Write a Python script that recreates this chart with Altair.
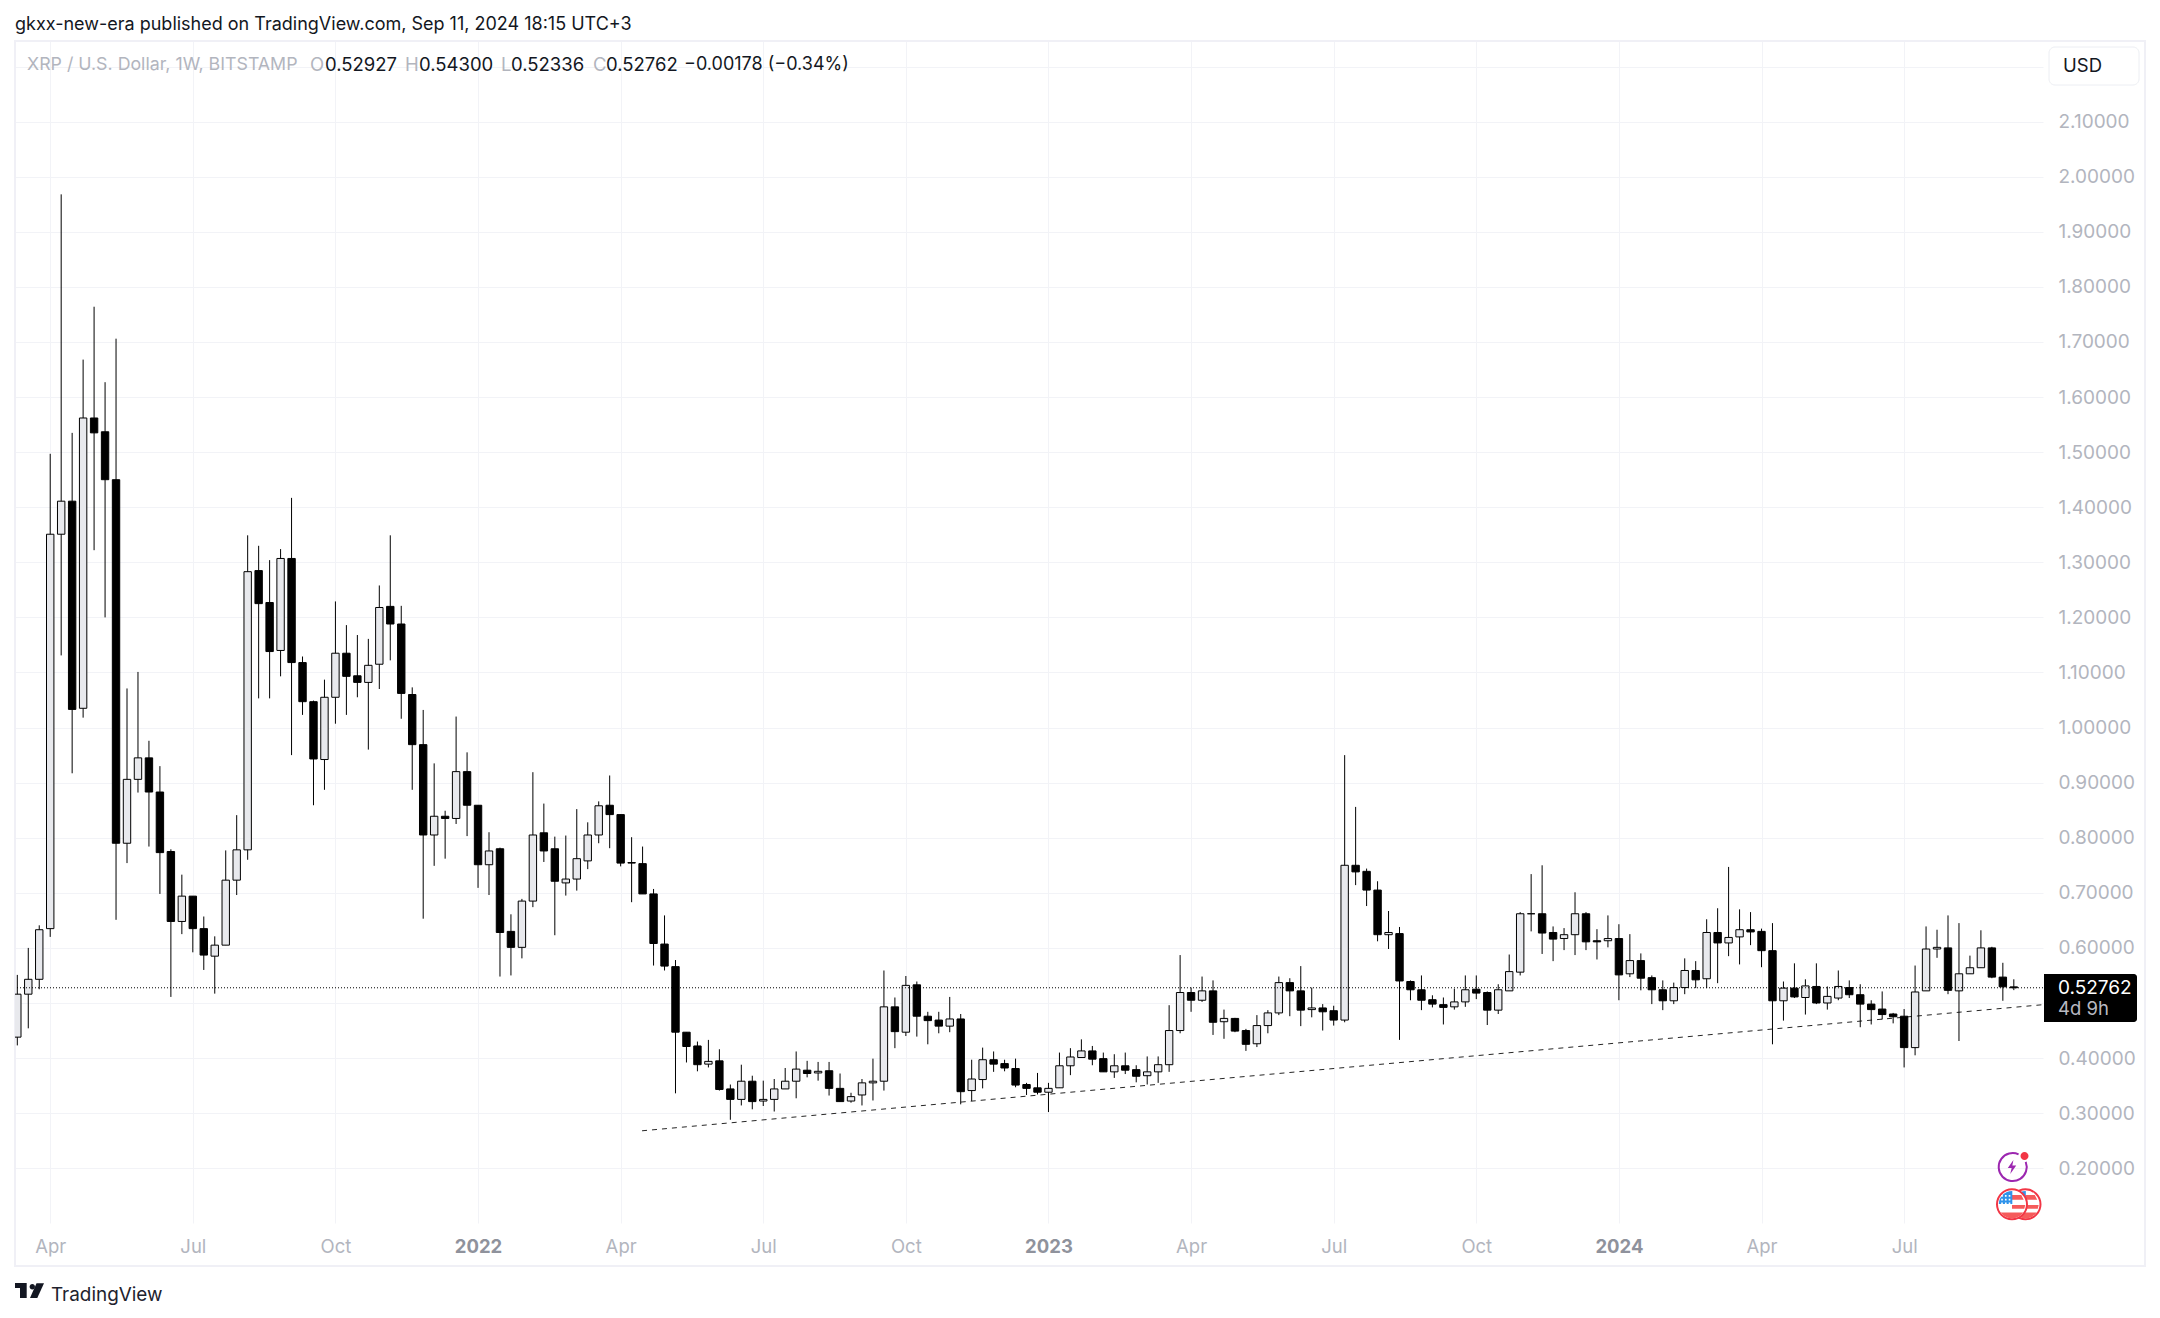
import altair as alt
import pandas as pd

opens = [.438,.516,.543,.635,1.351,1.411,1.035,1.562,1.537,1.45,
 .79,.906,.945,.883,.775,.648,.694,.635,.585,.605,
 .723,.778,1.285,1.227,1.14,1.307,1.118,1.047,.942,1.055,
 1.135,1.094,1.082,1.115,1.22,1.188,1.06,.969,.805,.839,
 .835,.92,.859,.751,.78,.63,.601,.685,.809,.78,
 .718,.725,.758,.805,.859,.842,.755,.753,.698,.607,
 .566,.447,.422,.389,.395,.344,.325,.358,.322,.325,
 .344,.358,.378,.373,.377,.345,.322,.333,.355,.358,
 .493,.447,.533,.476,.469,.458,.471,.341,.361,.397,
 .39,.381,.352,.346,.338,.346,.386,.401,.413,.399,
 .375,.386,.379,.368,.375,.388,.45,.519,.505,.522,
 .466,.472,.45,.426,.459,.482,.537,.522,.488,.491,
 .486,.469,.75,.739,.705,.624,.626,.539,.524,.506,
 .497,.493,.502,.525,.519,.487,.522,.556,.662,.662,
 .628,.617,.624,.662,.613,.613,.617,.553,.577,.546,
 .524,.504,.528,.559,.544,.628,.609,.62,.633,.63,
 .595,.504,.527,.51,.53,.5,.509,.528,.515,.498,
 .489,.48,.476,.419,.522,.598,.6,.522,.553,.564,
 .6,.547,.52927]
closes = [.516,.543,.633,1.351,1.411,1.033,1.562,1.535,1.45,.79,
 .906,.945,.883,.773,.648,.694,.635,.587,.605,.723,
 .778,1.283,1.225,1.138,1.307,1.118,1.047,.943,1.055,1.135,
 1.093,1.082,1.113,1.218,1.188,1.062,.969,.805,.839,.835,
 .92,.859,.751,.776,.628,.601,.685,.805,.776,.721,
 .725,.762,.805,.858,.842,.754,.754,.698,.608,.567,
 .447,.421,.388,.394,.343,.325,.358,.321,.325,.344,
 .358,.38,.372,.376,.345,.321,.33,.355,.358,.493,
 .448,.532,.476,.468,.458,.471,.339,.362,.397,.389,
 .382,.351,.345,.338,.345,.386,.402,.413,.398,.375,
 .386,.378,.367,.375,.388,.45,.519,.505,.522,.465,
 .472,.449,.425,.459,.482,.537,.522,.487,.491,.484,
 .469,.75,.738,.705,.624,.628,.54,.524,.505,.498,
 .492,.502,.524,.518,.487,.524,.557,.662,.662,.627,
 .616,.624,.662,.611,.611,.617,.551,.577,.545,.524,
 .504,.528,.559,.542,.628,.609,.619,.633,.629,.595,
 .504,.527,.511,.531,.5,.512,.53,.515,.498,.488,
 .479,.475,.419,.52,.598,.601,.523,.553,.564,.6,
 .547,.5294,.52762]
highs = [.551,.6,.641,1.497,1.968,1.535,1.668,1.764,1.627,1.706,
 1.071,1.101,.976,.93,.779,.733,.694,.657,.621,.777,
 .841,1.349,1.33,1.304,1.324,1.417,1.129,1.049,1.087,1.229,
 1.186,1.168,1.161,1.258,1.349,1.221,1.073,1.032,.935,.849,
 1.02,.955,.859,.81,.782,.661,.689,.919,.862,.802,
 .804,.852,.828,.866,.913,.842,.801,.784,.707,.659,
 .578,.447,.43,.433,.416,.352,.388,.368,.359,.362,
 .382,.412,.395,.393,.393,.372,.337,.362,.399,.559,
 .51,.549,.539,.484,.484,.511,.48,.397,.419,.412,
 .397,.399,.355,.373,.355,.41,.418,.434,.422,.41,
 .407,.41,.387,.403,.403,.496,.587,.528,.548,.541,
 .488,.473,.453,.478,.487,.548,.545,.567,.528,.498,
 .495,.95,.856,.744,.721,.667,.638,.541,.55,.514,
 .51,.526,.55,.55,.521,.534,.588,.665,.734,.75,
 .639,.636,.701,.665,.634,.659,.643,.625,.59,.55,
 .541,.537,.581,.576,.652,.672,.747,.67,.665,.635,
 .645,.539,.572,.543,.572,.53,.559,.541,.534,.505,
 .521,.482,.489,.568,.639,.633,.659,.645,.586,.632,
 .602,.573,.543]
lows = [.423,.454,.525,.62,1.131,.917,1.018,1.322,1.2,.651,
 .754,.882,.784,.698,.511,.625,.592,.56,.517,.605,
 .696,.76,1.053,1.053,1.093,.95,1.023,.859,.887,1.007,
 1.023,1.055,.96,1.07,1.122,1.016,.887,.653,.749,.762,
 .825,.803,.709,.696,.548,.55,.581,.674,.756,.623,
 .695,.704,.743,.79,.781,.748,.683,.698,.568,.559,
 .336,.392,.376,.383,.341,.288,.314,.307,.313,.303,
 .344,.327,.365,.359,.332,.321,.319,.314,.323,.341,
 .418,.44,.439,.425,.445,.447,.316,.322,.345,.375,
 .376,.347,.333,.334,.302,.346,.369,.401,.387,.375,
 .364,.371,.356,.352,.355,.375,.445,.484,.502,.442,
 .435,.447,.413,.42,.445,.478,.476,.458,.474,.45,
 .459,.465,.714,.676,.612,.598,.433,.505,.487,.492,
 .461,.488,.493,.507,.46,.48,.522,.55,.63,.589,
 .576,.596,.587,.596,.579,.601,.505,.547,.523,.498,
 .487,.498,.516,.527,.527,.536,.585,.57,.605,.565,
 .425,.468,.509,.479,.498,.488,.505,.509,.456,.461,
 .47,.463,.383,.405,.522,.582,.516,.431,.553,.564,
 .545,.504,.52336]

tick_weeks = [3,16,29,42,55,68,81,94,107,120,133,146,159,172]
tick_labels = ["Apr","Jul","Oct","2022","Apr","Jul","Oct","2023","Apr","Jul","Oct","2024","Apr","Jul"]
price_ticks = [round(0.2 + 0.1*k, 1) for k in range(21)]
last_price = 0.52762
trend_weeks = [56.95, 184.7]
trend_prices = [0.268, 0.497]

assert len(opens)==len(closes)==len(highs)==len(lows)==183

FONT = "Inter"
GRAY = "#b2b5be"
GRID = "#f2f3f7"
FRAME = "#f0f0f6"
INK = "#131722"
UP = "#e8e9ed"

df = pd.DataFrame({"week": range(183), "o": opens, "h": highs, "l": lows, "c": closes})
df["fill"] = [UP if c >= o else "#000000" for o, c in zip(opens, closes)]

labels_js = "[" + ",".join(f"'{t}'" for t in tick_labels) + "]"
weeks_js = "[" + ",".join(str(t) for t in tick_weeks) + "]"
year_test = "datum.value==42||datum.value==94||datum.value==146"

x_axis = alt.Axis(values=tick_weeks, title=None, grid=True, gridColor=GRID, gridWidth=1,
                  domain=False, ticks=False, labelPadding=14, labelFont=FONT, labelFontSize=18.5,
                  labelColor={"condition": {"test": year_test, "value": "#8f929c"}, "value": GRAY},
                  labelFontWeight={"condition": {"test": year_test, "value": 700}, "value": 400},
                  labelOverlap=False, labelFlush=False,
                  labelExpr=f"{labels_js}[indexof({weeks_js},datum.value)]")
y_axis = alt.Axis(values=price_ticks, title=None, orient="right", grid=True, gridColor=GRID, gridWidth=1,
                  domain=False, ticks=False, labelPadding=15, labelFont=FONT, labelFontSize=19,
                  labelColor=GRAY, labelOverlap=False, labelFlush=False, labelBaseline="middle",
                  labelExpr="datum.value>2.15||abs(datum.value-0.5)<0.01?'':format(datum.value,'.5f')")
x_scale = alt.Scale(domain=[-0.21, 184.66], nice=False, zero=False, padding=0)
y_scale = alt.Scale(domain=[0.1006, 2.2464], nice=False, zero=False, padding=0)
X = alt.X("week:Q", scale=x_scale, axis=x_axis)
Yh = alt.Y("h:Q", scale=y_scale, axis=y_axis)

wicks = alt.Chart(df).mark_rule(color="#000000", strokeWidth=1, clip=True).encode(x=X, y=Yh, y2="l:Q")
bodies = alt.Chart(df).mark_bar(size=7.4, stroke="#000000", strokeWidth=1, clip=True).encode(
    x=X, y=alt.Y("o:Q", scale=y_scale, axis=y_axis), y2="c:Q",
    fill=alt.Fill("fill:N", scale=None, legend=None))

trend = alt.Chart(pd.DataFrame({"week": trend_weeks, "price": trend_prices})).mark_line(
    color="#000000", strokeWidth=1, strokeDash=[5, 5], opacity=0.85, clip=True).encode(
    x=X, y=alt.Y("price:Q", scale=y_scale, axis=y_axis))
last_rule = alt.Chart(pd.DataFrame({"price": [last_price]})).mark_rule(
    color="#000000", strokeWidth=1, strokeDash=[1, 2]).encode(
    y=alt.Y("price:Q", scale=y_scale, axis=y_axis))

blank = pd.DataFrame({"a": [0]})
OX, OY = 15, 41


def txt(s, x, y, color=INK, size=18.5, weight=400):
    return alt.Chart(blank).mark_text(text=s, font=FONT, fontSize=size, fontWeight=weight, color=color,
                                      align="left", baseline="middle").encode(
        x=alt.value(x - OX), y=alt.value(y - OY))


def box(x0, x1, y0, y1, **kw):
    return alt.Chart(blank).mark_rect(**kw).encode(
        x=alt.value(x0 - OX), x2=alt.value(x1 - OX), y=alt.value(y0 - OY), y2=alt.value(y1 - OY))


def sym(path, x, y, width, **kw):
    return alt.Chart(blank).mark_point(shape=path, size=width * width, **kw).encode(
        x=alt.value(x - OX), y=alt.value(y - OY))


frame = box(15, 2145, 41, 1266, fillOpacity=0, stroke=FRAME, strokeWidth=2)
usd_box = box(2049, 2139, 47, 85, fill="#ffffff", stroke="#eceef3", strokeWidth=1, cornerRadius=6)
badge = box(2044, 2137, 974, 1022, fill="#000000", cornerRadiusTopRight=3, cornerRadiusBottomRight=3)

texts = [
    txt("gkxx-new-era published on TradingView.com, Sep 11, 2024 18:15 UTC+3", 15, 25, size=18),
    txt("XRP / U.S. Dollar, 1W, BITSTAMP", 27, 65, GRAY, size=17.8),
    txt("O", 310, 65, GRAY), txt("0.52927", 325, 65),
    txt("H", 405, 65, GRAY), txt("0.54300", 419, 65),
    txt("L", 501, 65, GRAY), txt("0.52336", 511, 65),
    txt("C", 593, 65, GRAY), txt("0.52762", 606, 65),
    txt("\u22120.00178 (\u22120.34%)", 684, 65, size=18),
    txt("USD", 2063, 66),
    txt("0.52762", 2058, 988, "#ffffff", size=19),
    txt("4d 9h", 2058, 1009, "#b8b9c0", size=18.5),
    txt("TradingView", 51, 1295, "#1e222d", 18.9, 400),
]

# TradingView logo
logo = [
    sym("M-.967,-.5L-.187,-.5L-.187,.5L-.633,.5L-.633,-.167L-.967,-.167Z", 29.5, 1290.5, 30, filled=True, fill="#131722", opacity=1),
    sym("M.007,-.253A.18,.18 0 1,1 .367,-.253A.18,.18 0 1,1 .007,-.253Z", 29.5, 1290.5, 30, filled=True, fill="#131722", opacity=1),
    sym("M.467,-.48L.967,-.48L.52,.5L.033,.5Z", 29.5, 1290.5, 30, filled=True, fill="#131722", opacity=1),
]

# earnings / dividends badges on the time scale
PURPLE = "#9c27b0"
RED = "#f23645"
ring = sym("M.42,-.9A1,1 0 1,0 .93,-.36", 2012.7, 1167, 28, filled=False, stroke=PURPLE, strokeWidth=2, opacity=1)
bolt = sym("M.2,-1L-.6,.15L-.05,.15L-.25,1L.6,-.2L.05,-.2Z", 2012, 1167, 14, filled=True, fill=PURPLE, opacity=1)
dot = sym("M-1,0A1,1 0 1,1 1,0A1,1 0 1,1 -1,0Z", 2024.5, 1156, 8, filled=True, fill=RED, opacity=1)


def coin(cx, cy):
    circle = "M-1,0A1,1 0 1,1 1,0A1,1 0 1,1 -1,0Z"
    squares = "".join(f"M{x},{y}h.11v.11h-.11Z" for x in (-.72, -.47, -.22) for y in (-.62, -.37, -.12))
    return [
        sym(circle, cx, cy, 30, filled=True, fill="#ffffff", stroke=RED, strokeWidth=2, opacity=1),
        sym("M-.75,.55A.92,.92 0 0,0 .75,.55Z", cx, cy, 30, filled=True, fill="#f55b5b", opacity=1),
        sym("M0,-.62L.62,-.62L.78,-.3L0,-.3ZM0,.05L.88,.05L.82,.3L0,.3Z", cx, cy, 30, filled=True, fill="#f55b5b", opacity=1),
        sym("M-.88,-.02L.02,-.02L.02,-.88A.88,.88 0 0,0 -.88,-.02Z", cx, cy, 30, filled=True, fill="#2f93ea", opacity=1),
        sym(squares, cx, cy, 30, filled=True, fill="#ffffff", opacity=1),
    ]


icons = [ring, bolt, dot] + coin(2025.5, 1204.3) + coin(2012, 1204.3)

chart = alt.layer(
    frame, wicks, bodies, trend, last_rule, usd_box, badge, *texts, *logo, *icons
).properties(
    width=2028, height=1182,
    padding={"left": 7, "top": 33, "right": 109, "bottom": 87},
    autosize=alt.AutoSizeParams(type="none"),
    background="#ffffff",
).configure_view(stroke=None)

chart.save("out.html", embed_options={"renderer": "svg", "actions": False})
